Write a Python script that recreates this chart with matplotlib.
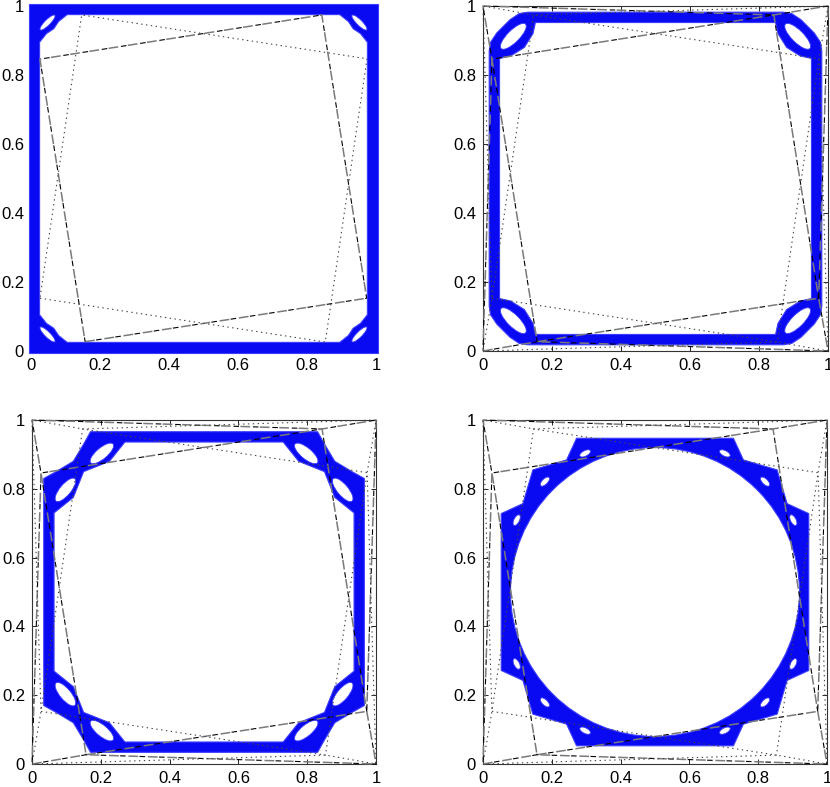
import matplotlib
matplotlib.use("Agg")
import matplotlib.pyplot as plt
from matplotlib.patches import Polygon, Ellipse, Circle

plt.rcParams['font.family'] = ['Liberation Sans', 'DejaVu Sans']
plt.rcParams['lines.scale_dashes'] = False

BLUE = '#0a0af2'
BLUE_EDGE = '#3c3cff'

ticks = [0, 0.2, 0.4, 0.6, 0.8, 1]
tick_labels = ['0', '0.2', '0.4', '0.6', '0.8', '1']

# rotated squares (dashed A, dotted B) and the octagons joining them to the corners
sqA_x = [0.157, 0.973, 0.843, 0.026, 0.157]
sqA_y = [0.027, 0.153, 0.974, 0.846, 0.027]
sqB_x = [0.026, 0.853, 0.974, 0.147, 0.026]
sqB_y = [0.153, 0.026, 0.847, 0.974, 0.153]
octA_x = [0, 0.157, 1, 0.973, 1, 0.843, 0, 0.026, 0]
octA_y = [0, 0.027, 0, 0.153, 1, 0.974, 1, 0.846, 0]
octB_x = [0, 0.853, 1, 0.974, 1, 0.147, 0, 0.026, 0]
octB_y = [0, 0.026, 0, 0.847, 1, 0.974, 1, 0.153, 0]

# panel 1: band hugging the box
p1_outer_x = [-0.005, 1.005, 1.005, -0.005]
p1_outer_y = [-0.005, -0.005, 1.005, 1.005]
p1_inner_x = [0.025, 0.045, 0.066, 0.08, 0.105,
              0.895, 0.92, 0.934, 0.955, 0.975,
              0.975, 0.955, 0.934, 0.92, 0.895,
              0.105, 0.08, 0.066, 0.045, 0.025]
p1_inner_y = [0.105, 0.08, 0.066, 0.045, 0.025,
              0.025, 0.045, 0.066, 0.08, 0.105,
              0.895, 0.92, 0.934, 0.955, 0.975,
              0.975, 0.955, 0.934, 0.92, 0.895]
p1_hole_x = [0.048, 0.952, 0.952, 0.048]
p1_hole_y = [0.952, 0.952, 0.048, 0.048]
p1_hole_ang = [45, -45, 45, -45]
p1_hole_len = 0.06
p1_hole_wid = 0.016

# panel 2: rounded square with one loop per corner
p2_outer_x = [0.018, 0.022, 0.04, 0.078, 0.105, 0.13,
              0.87, 0.895, 0.922, 0.96, 0.978, 0.982,
              0.982, 0.978, 0.96, 0.922, 0.895, 0.87,
              0.13, 0.105, 0.078, 0.04, 0.022, 0.018]
p2_outer_y = [0.13, 0.105, 0.078, 0.04, 0.022, 0.018,
              0.018, 0.022, 0.04, 0.078, 0.105, 0.13,
              0.87, 0.895, 0.922, 0.96, 0.978, 0.982,
              0.982, 0.978, 0.96, 0.922, 0.895, 0.87]
p2_inner_x = [0.048, 0.08, 0.12, 0.145, 0.152,
              0.848, 0.855, 0.88, 0.92, 0.952,
              0.952, 0.92, 0.88, 0.855, 0.848,
              0.152, 0.145, 0.12, 0.08, 0.048]
p2_inner_y = [0.152, 0.145, 0.12, 0.08, 0.048,
              0.048, 0.08, 0.12, 0.145, 0.152,
              0.848, 0.855, 0.88, 0.92, 0.952,
              0.952, 0.92, 0.88, 0.855, 0.848]
p2_hole_x = [0.088, 0.912, 0.912, 0.088]
p2_hole_y = [0.912, 0.912, 0.088, 0.088]
p2_hole_ang = [45, -45, 45, -45]
p2_hole_len = 0.10
p2_hole_wid = 0.035

# panel 3: two loops per corner
p3_outer_x = [0.034, 0.07, 0.12, 0.15, 0.17,
              0.83, 0.85, 0.88, 0.93, 0.966,
              0.966, 0.93, 0.88, 0.85, 0.83,
              0.17, 0.15, 0.12, 0.07, 0.034]
p3_outer_y = [0.17, 0.15, 0.12, 0.07, 0.034,
              0.034, 0.07, 0.12, 0.15, 0.17,
              0.83, 0.85, 0.88, 0.93, 0.966,
              0.966, 0.93, 0.88, 0.85, 0.83]
p3_inner_x = [0.064, 0.12, 0.15, 0.225, 0.27,
              0.73, 0.775, 0.85, 0.88, 0.936,
              0.936, 0.88, 0.85, 0.775, 0.73,
              0.27, 0.225, 0.15, 0.12, 0.064]
p3_inner_y = [0.27, 0.225, 0.15, 0.12, 0.064,
              0.064, 0.12, 0.15, 0.225, 0.27,
              0.73, 0.775, 0.85, 0.88, 0.936,
              0.936, 0.88, 0.85, 0.775, 0.73]
p3_hole_x = [0.203, 0.097, 0.797, 0.903, 0.097, 0.203, 0.903, 0.797]
p3_hole_y = [0.903, 0.797, 0.903, 0.797, 0.203, 0.097, 0.203, 0.097]
p3_hole_ang = [40, 50, -40, -50, -50, -40, 50, 40]
p3_hole_len = 0.085
p3_hole_wid = 0.032

# panel 4: ring with twelve small loops
p4_outer_x = [0.053, 0.116, 0.145, 0.243, 0.272,
              0.728, 0.757, 0.855, 0.884, 0.947,
              0.947, 0.884, 0.855, 0.757, 0.728,
              0.272, 0.243, 0.145, 0.116, 0.053]
p4_outer_y = [0.272, 0.243, 0.145, 0.116, 0.053,
              0.053, 0.116, 0.145, 0.243, 0.272,
              0.728, 0.757, 0.855, 0.884, 0.947,
              0.947, 0.884, 0.855, 0.757, 0.728]
p4_inner_center = (0.5, 0.5)
p4_inner_radius = 0.42
p4_hole_x = [0.297, 0.18, 0.098, 0.703, 0.82, 0.902,
             0.902, 0.82, 0.703, 0.098, 0.18, 0.297]
p4_hole_y = [0.903, 0.821, 0.709, 0.903, 0.821, 0.709,
             0.291, 0.179, 0.097, 0.291, 0.179, 0.097]
p4_hole_ang = [27, 45, 63, -27, -45, -63, 63, 45, 27, -63, -45, -27]
p4_hole_len = 0.034
p4_hole_wid = 0.016


def dash_line(ax, xs, ys):
    ax.plot(xs, ys, color='#7a7a7a', lw=1.1, linestyle=(0, (7, 7)), zorder=5, clip_on=False)
    ax.plot(xs, ys, color='black', lw=0.8, linestyle=(6, (4, 10)), zorder=5, clip_on=False)


def dot_line(ax, xs, ys):
    ax.plot(xs, ys, color='#444444', lw=0.8, linestyle=(0, (1, 2.5)), zorder=5, clip_on=False)


def draw_panel(ax, ox, oy, hx, hy, ha, hl, hw, ix=None, iy=None, circ=None, octs=True):
    ax.add_patch(Polygon(list(zip(ox, oy)), closed=True, facecolor=BLUE,
                         edgecolor=BLUE_EDGE, lw=0.8, zorder=3, clip_on=False))
    if circ is not None:
        ax.add_patch(Circle(circ[0], circ[1], facecolor='white', edgecolor=BLUE_EDGE,
                            lw=0.8, zorder=3.1))
    else:
        ax.add_patch(Polygon(list(zip(ix, iy)), closed=True, facecolor='white',
                             edgecolor=BLUE_EDGE, lw=0.8, zorder=3.1))
    for x, y, a in zip(hx, hy, ha):
        ax.add_patch(Ellipse((x, y), hl, hw, angle=a, facecolor='white',
                             edgecolor=BLUE_EDGE, lw=0.6, zorder=3.2))
    dash_line(ax, sqA_x, sqA_y)
    dot_line(ax, sqB_x, sqB_y)
    if octs:
        dash_line(ax, octA_x, octA_y)
        dot_line(ax, octB_x, octB_y)

    ax.set_xlim(0, 1)
    ax.set_ylim(0, 1)
    ax.set_xticks(ticks)
    ax.set_yticks(ticks)
    ax.set_xticklabels(tick_labels)
    ax.set_yticklabels(tick_labels)
    ax.tick_params(direction='in', length=3.5, width=0.6, top=True, right=True,
                   labelsize=12, pad=5)
    for s in ax.spines.values():
        s.set_linewidth(0.8)
        s.set_color('#333333')


fig = plt.figure(figsize=(8.3, 7.87), dpi=100)
ax1 = fig.add_axes([0.0373, 0.554, 0.4157, 0.4384])
ax2 = fig.add_axes([0.5819, 0.554, 0.4157, 0.4384])
ax3 = fig.add_axes([0.0386, 0.0292, 0.4145, 0.4371])
ax4 = fig.add_axes([0.5819, 0.0292, 0.4145, 0.4371])

draw_panel(ax1, p1_outer_x, p1_outer_y, p1_hole_x, p1_hole_y, p1_hole_ang,
           p1_hole_len, p1_hole_wid, ix=p1_inner_x, iy=p1_inner_y, octs=False)
draw_panel(ax2, p2_outer_x, p2_outer_y, p2_hole_x, p2_hole_y, p2_hole_ang,
           p2_hole_len, p2_hole_wid, ix=p2_inner_x, iy=p2_inner_y)
draw_panel(ax3, p3_outer_x, p3_outer_y, p3_hole_x, p3_hole_y, p3_hole_ang,
           p3_hole_len, p3_hole_wid, ix=p3_inner_x, iy=p3_inner_y)
draw_panel(ax4, p4_outer_x, p4_outer_y, p4_hole_x, p4_hole_y, p4_hole_ang,
           p4_hole_len, p4_hole_wid, circ=(p4_inner_center, p4_inner_radius))

fig.savefig('out.png', dpi=100)
